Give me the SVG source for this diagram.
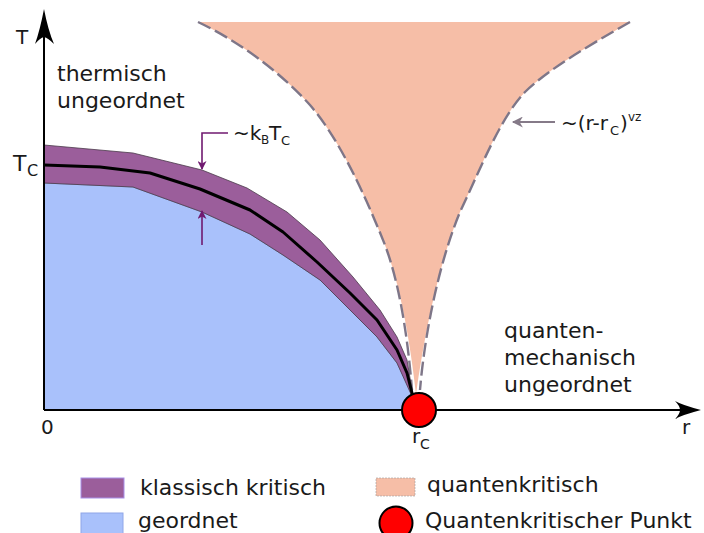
<svg xmlns="http://www.w3.org/2000/svg" width="704" height="533" viewBox="0 0 704 533">
<style>
text{font-family:"DejaVu Sans","Liberation Sans",sans-serif;fill:#1a1a1a}
.big{font-size:22px}
.dash{fill:none;stroke:#7e7688;stroke-width:2.4;stroke-dasharray:14 5}
.pm{stroke:#701a70;stroke-width:1.6;fill:none}
</style>
<defs>
<marker id="pa" viewBox="0 0 10 10" refX="9" refY="5" markerWidth="12" markerHeight="9" orient="auto" markerUnits="userSpaceOnUse">
<path d="M0,0 L10,5 L0,10 L3,5 Z" fill="#701a70"/>
</marker>
<marker id="ga" viewBox="0 0 10 10" refX="9" refY="5" markerWidth="12" markerHeight="11" orient="auto" markerUnits="userSpaceOnUse">
<path d="M0,0 L10,5 L0,10 L3,5 Z" fill="#857a88"/>
</marker>
</defs>
<rect width="704" height="533" fill="#fff"/>

<g id="quantenkritisch">
<path d="M198,22 C240,42 280,72 310,105 C340,140 365,195 385,245 C400,285 410,340 416,394 C425,330 440,260 460,212 C480,170 500,118 525,92 C550,68 590,45 630,22 Z" fill="#f6bea7"/>
<path class="dash" d="M198,22 C240,42 280,72 310,105 C340,140 365,195 385,245 C400,285 408,340 412,390"/>
<path class="dash" d="M630,22 C590,45 550,68 525,92 C500,118 480,170 460,212 C440,260 425,330 420,390"/>
</g>

<g id="geordnet">
<path d="M44,183 L133,187 L202,212 L250,234 L283,255 L320,280 L350,310 L377,337 L397,363 L410,390 L414,410 L44,410 Z" fill="#a9c1fb" stroke="#6f7fa8" stroke-width="0.8"/>
</g>

<g id="klassisch">
<path d="M44,145 L133,153 L202,170 L247,188 L287,212 L320,240 L353,277 L380,310 L397,337 L407,360 L412,390 L414,400 L410,392 L397,363 L377,337 L350,310 L320,280 L283,255 L250,234 L202,212 L133,187 L44,183 Z" fill="#9b5e9b" stroke="#4a3a4a" stroke-width="0.8" stroke-linejoin="round"/>
<path d="M44,165 L100,167 L150,173 L200,189 L250,210 L283,232 L317,262 L350,293 L377,320 L397,350 L407,373 L413,397" fill="none" stroke="#000" stroke-width="3" stroke-linejoin="round"/>
</g>

<g id="connectors">
<path class="pm" d="M228,133 L202,133 L202,169" marker-end="url(#pa)"/>
<path class="pm" d="M202,245 L202,211" marker-end="url(#pa)"/>
<path d="M555,122 L513,122" stroke="#857a88" stroke-width="1.8" fill="none" marker-end="url(#ga)"/>
</g>

<g id="achsen">
<path d="M44,410 L44,36" stroke="#000" stroke-width="2"/>
<path d="M44,410 L684,410" stroke="#000" stroke-width="2"/>
<path d="M44,9 Q48,30 54,44 Q48,38 44,37 Q40,38 35,44 Q40,30 44,9 Z" fill="#000"/>
<path d="M701,410 Q682,405 675,401 Q680,406 680,410 Q680,414 675,419 Q682,415 701,410 Z" fill="#000"/>
</g>

<g id="qkp">
<circle cx="419" cy="410" r="17" fill="#f00" stroke="#000" stroke-width="2"/>
</g>

<g id="beschriftung">
<text x="16" y="44" font-size="20">T</text>
<text x="13" y="171" font-size="22">T</text><text x="27" y="176" font-size="16">C</text>
<text x="41" y="434" font-size="20">0</text>
<text x="682" y="434" font-size="20">r</text>
<text x="412" y="443" font-size="20">r</text><text x="420" y="449" font-size="14">C</text>
<text class="big" x="57" y="81">thermisch</text>
<text class="big" x="57" y="108">ungeordnet</text>
<text class="big" x="504" y="338">quanten-</text>
<text class="big" x="504" y="365">mechanisch</text>
<text class="big" x="504" y="392">ungeordnet</text>
<text x="233" y="140" font-size="20">~k</text><text x="261" y="144" font-size="12">B</text><text x="269" y="140" font-size="20">T</text><text x="281" y="145" font-size="13">C</text>
<text x="561" y="130" font-size="20">~(r-r</text><text x="610" y="135" font-size="13">C</text><text x="620" y="130" font-size="20">)</text><text x="628" y="121" font-size="12">vz</text>
</g>

<g id="legende">
<rect x="81" y="478" width="43" height="20" fill="#9b5e9b" stroke="#a890e8" stroke-width="1"/>
<text class="big" x="140" y="495">klassisch kritisch</text>
<rect x="81" y="513" width="42" height="22" fill="#a9c1fb" stroke="#8fa6e8" stroke-width="1"/>
<text class="big" x="138" y="528">geordnet</text>
<rect x="376" y="478" width="39" height="18" fill="#f6bea7" stroke="#a09a9a" stroke-width="0.6" stroke-dasharray="2 1"/>
<text class="big" x="427" y="492">quantenkritisch</text>
<circle cx="396" cy="523" r="16.5" fill="#f00" stroke="#000" stroke-width="2"/>
<text class="big" x="425" y="528">Quantenkritischer Punkt</text>
</g>
</svg>
